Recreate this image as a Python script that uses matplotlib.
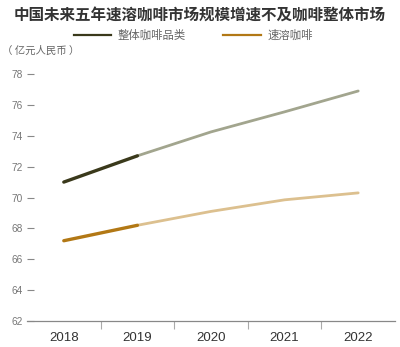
import matplotlib
matplotlib.use("Agg")
import matplotlib.pyplot as plt
import numpy as np

plt.rcParams['font.family'] = ['Liberation Sans', 'Noto Sans CJK SC', 'DejaVu Sans']

title = "中国未来五年速溶咖啡市场规模增速不及咖啡整体市场"
unit = "（ 亿元人民币 ）"
years = ["2018", "2019", "2020", "2021", "2022"]
series_names = ["整体咖啡品类", "速溶咖啡"]
total_coffee = [71.0, 72.7, 74.25, 75.55, 76.9]
instant_coffee = [67.2, 68.2, 69.1, 69.85, 70.3]
n_actual = 2  # 2018-2019 actual, rest projected

dark_colors = ["#3a391b", "#b27815"]
light_colors = ["#a2a58e", "#dcc08f"]

fig = plt.figure(figsize=(4.0, 3.47), dpi=100)
ax = fig.add_axes([0.0675, 0.0749, 0.92, 0.7118])

x = np.arange(len(years))
handles = []
for vals, dc, lc, name in zip([total_coffee, instant_coffee], dark_colors, light_colors, series_names):
    ax.plot(x[n_actual - 1:], vals[n_actual - 1:], color=lc, lw=2.0, solid_capstyle='round', zorder=2)
    ax.plot(x[:n_actual], vals[:n_actual], color=dc, lw=2.4, solid_capstyle='round', zorder=3)
    h, = ax.plot([], [], color=dc, lw=1.6, label=name)
    handles.append(h)

ax.set_xlim(-0.5, len(years) - 0.5)
ax.set_ylim(62, 78)
ax.set_yticks(np.arange(62, 79, 2))
ax.set_xticks(x)
ax.set_xticklabels(years)
ax.set_xticks(x[:-1] + 0.5, minor=True)

for s in ['top', 'right', 'left']:
    ax.spines[s].set_visible(False)
ax.spines['bottom'].set_color('#888888')
ax.spines['bottom'].set_linewidth(0.9)

ax.tick_params(axis='y', direction='in', length=5, width=0.8, color='#888888',
               labelsize=7.3, labelcolor='#777777', pad=3)
ax.tick_params(axis='x', which='major', length=0, labelsize=9.5, labelcolor='#333333', pad=8)
ax.tick_params(axis='x', which='minor', direction='out', length=6, width=0.8, color='#aaaaaa')

fig.text(0.5, 0.958, title, ha='center', va='center', fontsize=11.2, fontweight='bold',
         color='#333333', family=['Noto Sans CJK SC', 'DejaVu Sans'])
fig.text(0.005, 0.853, unit, ha='left', va='center', fontsize=7.5, color='#666666',
         family=['Noto Sans CJK SC', 'DejaVu Sans'])

# legend
leg = fig.legend(handles=handles, labels=series_names, loc='center',
                 bbox_to_anchor=(0.483, 0.898), ncol=2, frameon=False, handlelength=3.3,
                 columnspacing=3.3, handletextpad=0.55,
                 prop={'family': 'Noto Sans CJK SC', 'size': 8.2})
for t in leg.get_texts():
    t.set_color('#666666')

fig.savefig("out.png", dpi=100, facecolor='white')
